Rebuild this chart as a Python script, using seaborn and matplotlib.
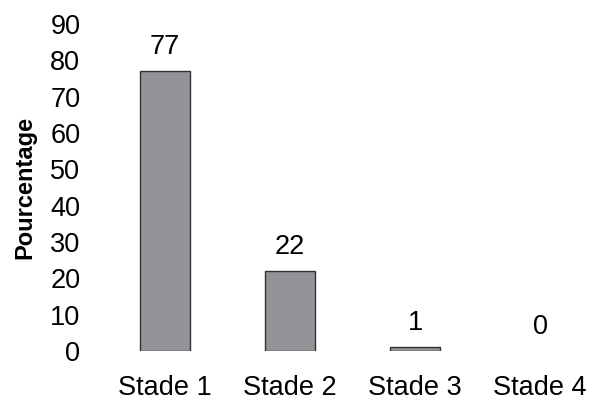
import matplotlib
matplotlib.use('Agg')
import matplotlib.pyplot as plt
import seaborn as sns
import pandas as pd

stades = ["Stade 1", "Stade 2", "Stade 3", "Stade 4"]
pourcentages = [77, 22, 1, 0]

sns.set_style("white")
plt.rcParams['font.family'] = ['Liberation Sans', 'DejaVu Sans']
plt.rcParams['text.color'] = 'black'
plt.rcParams['axes.labelcolor'] = 'black'
plt.rcParams['xtick.color'] = 'black'
plt.rcParams['ytick.color'] = 'black'

df = pd.DataFrame({"stade": stades, "pct": pourcentages})

fig = plt.figure(figsize=(5.95, 4.01), dpi=100)
ax = fig.add_axes([102.5 / 595, 50 / 401, (595 - 102.5) / 595, 327 / 401])
sns.barplot(data=df, x="stade", y="pct", color="#939498", saturation=1,
            width=0.4, edgecolor="#333333", linewidth=1, ax=ax)

# pas de contour pour les barres vides
for bar, v in zip(ax.patches, pourcentages):
    if v == 0:
        bar.set_linewidth(0)

for i, v in enumerate(pourcentages):
    ax.text(i, v + 3.0, str(v), ha="center", va="bottom", fontsize=19.5)

ax.set_ylim(0, 90)
ax.set_xlim(-0.5, 3.44)
ax.set_yticks(range(0, 91, 10))
ax.tick_params(axis="y", length=0, pad=16, labelsize=19.5)
ax.tick_params(axis="x", length=0, pad=17, labelsize=19.5)
ax.set_xlabel("")
ax.set_ylabel("Pourcentage", fontsize=17, fontweight="bold", labelpad=10)
for s in ax.spines.values():
    s.set_visible(False)

plt.savefig("out.png", dpi=100)
plt.close()
